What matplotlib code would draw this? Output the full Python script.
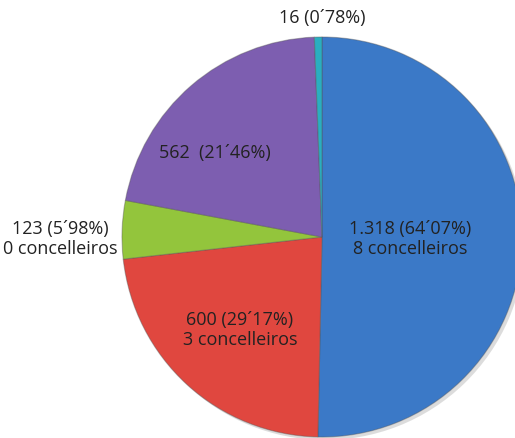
import matplotlib
matplotlib.use("Agg")
import matplotlib.pyplot as plt

# data (clockwise from 12 o'clock)
values = [1318, 600, 123, 562, 16]
labels = ["1.318 (64\u00b407%)\n8 concelleiros",
          "600 (29\u00b417%)\n3 concelleiros",
          "123 (5\u00b498%)\n0 concelleiros",
          "562  (21\u00b446%)",
          "16 (0\u00b478%)"]
colors = ["#3b79c7", "#e0473f", "#93c53c", "#7d5eb0", "#2aaec0"]

plt.rcParams['font.family'] = ['Open Sans', 'DejaVu Sans']

fig = plt.figure(figsize=(5.15, 4.39), dpi=100)
ax = fig.add_axes([122 / 515, 1 / 439, 400 / 515, 400 / 439])
ax.set_aspect('equal')
ax.set_axis_off()

# soft drop shadow
ax.pie(values, radius=1.0, startangle=90, counterclock=False,
       colors=['#bbbbbb'] * len(values), center=(0.015, -0.015),
       wedgeprops=dict(linewidth=0, alpha=0.5))
wedges, _ = ax.pie(values, radius=1.0, startangle=90, counterclock=False,
                   colors=colors,
                   wedgeprops=dict(edgecolor='#55555566', linewidth=0.8))
ax.set_xlim(-1, 1)
ax.set_ylim(-1, 1)

# label positions in data coords (pie radius = 1)
label_pos = [(0.44, -0.005), (-0.41, -0.46), (-1.31, -0.005), (-0.535, 0.425), (0.0, 1.1)]
for (x, y), txt in zip(label_pos, labels):
    ax.text(x, y, txt, ha='center', va='center', fontsize=13,
            color='#222222', linespacing=1.2, clip_on=False)

fig.savefig("out.png", dpi=100)
